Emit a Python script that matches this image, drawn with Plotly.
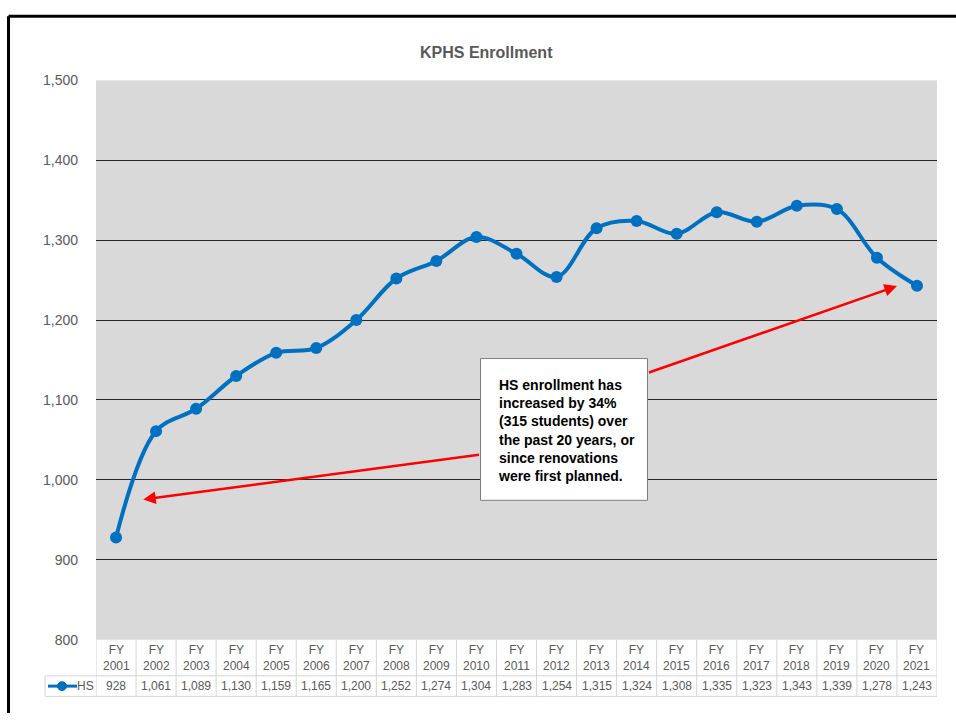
import plotly.graph_objects as go

# ---- data ----
fiscal_years = ["2001", "2002", "2003", "2004", "2005", "2006", "2007", "2008", "2009", "2010", "2011",
                "2012", "2013", "2014", "2015", "2016", "2017", "2018", "2019", "2020", "2021"]
hs_enrollment = [928, 1061, 1089, 1130, 1159, 1165, 1200, 1252, 1274, 1304, 1283,
                 1254, 1315, 1324, 1308, 1335, 1323, 1343, 1339, 1278, 1243]
series_name = "HS"
y_ticks = [800, 900, 1000, 1100, 1200, 1300, 1400, 1500]
chart_title = "KPHS Enrollment"
note_text = ("HS enrollment has<br>increased by 34%<br>(315 students) over<br>"
             "the past 20 years, or<br>since renovations<br>were first planned.")

W, H = 956, 721
BLUE = "#0070C0"
GRAY_TXT = "#595959"
FONT = "Liberation Sans, Arial, sans-serif"


def px(x):
    return x / W


def py(y):
    return 1 - y / H


# plot area in pixels
PL, PR, PT, PB = 96, 937, 74, 646
ROW1_BOTTOM, ROW2_BOTTOM, LEG_LEFT = 683, 704, 45

idx = list(range(len(fiscal_years)))

fig = go.Figure()
fig.add_trace(go.Scatter(
    x=idx, y=hs_enrollment, mode="lines+markers", name=series_name,
    line=dict(color=BLUE, width=4, shape="spline", smoothing=1.0),
    marker=dict(color=BLUE, size=12),
    showlegend=False, cliponaxis=False,
))

shapes = []
annotations = []

# outer frame (kept inside the paper)
shapes.append(dict(type="line", xref="paper", yref="paper", x0=px(8.5), x1=1,
                   y0=py(8.5), y1=py(8.5), line=dict(color="black", width=3)))
shapes.append(dict(type="line", xref="paper", yref="paper", x0=px(8.5), x1=px(8.5),
                   y0=py(8.5), y1=0, line=dict(color="black", width=3)))

# data table grid
TBL = "#d4d4d4"
n = len(fiscal_years)
for k in range(n + 1):
    xb = k - 0.5
    shapes.append(dict(type="line", xref="x", yref="paper", x0=xb, x1=xb,
                       y0=py(PB), y1=py(ROW2_BOTTOM), line=dict(color=TBL, width=1), layer="below"))
shapes.append(dict(type="line", xref="paper", yref="paper", x0=px(LEG_LEFT), x1=px(PR),
                   y0=py(ROW1_BOTTOM), y1=py(ROW1_BOTTOM), line=dict(color=TBL, width=1)))
shapes.append(dict(type="line", xref="paper", yref="paper", x0=px(LEG_LEFT), x1=px(PR),
                   y0=py(ROW2_BOTTOM), y1=py(ROW2_BOTTOM), line=dict(color=TBL, width=1)))
shapes.append(dict(type="line", xref="paper", yref="paper", x0=px(LEG_LEFT), x1=px(LEG_LEFT),
                   y0=py(ROW1_BOTTOM), y1=py(ROW2_BOTTOM), line=dict(color=TBL, width=1)))

for i, (fy, v) in enumerate(zip(fiscal_years, hs_enrollment)):
    annotations.append(dict(x=i, y=py(664.5), xref="x", yref="paper", text="FY<br>" + fy,
                            showarrow=False, font=dict(family=FONT, size=12, color=GRAY_TXT),
                            xanchor="center", yanchor="middle"))
    annotations.append(dict(x=i, y=py(693.5), xref="x", yref="paper", text=f"{v:,}",
                            showarrow=False, font=dict(family=FONT, size=12, color=GRAY_TXT),
                            xanchor="center", yanchor="middle"))

# legend key in the table
shapes.append(dict(type="line", xref="paper", yref="paper", x0=px(48), x1=px(77),
                   y0=py(693.5), y1=py(693.5), line=dict(color=BLUE, width=3)))
shapes.append(dict(type="circle", xref="paper", yref="paper", x0=px(57.5), x1=px(66.5),
                   y0=py(689), y1=py(698), fillcolor=BLUE, line=dict(color=BLUE, width=1)))
annotations.append(dict(x=px(85), y=py(693.5), xref="paper", yref="paper", text=series_name,
                        showarrow=False, font=dict(family=FONT, size=12, color=GRAY_TXT),
                        xanchor="center", yanchor="middle"))

# red arrows from the note box
annotations.append(dict(x=0.68, y=975.5, ax=9.1, ay=1031.7, xref="x", yref="y", axref="x", ayref="y",
                        text="", showarrow=True, arrowhead=2, arrowsize=1, arrowwidth=2.5,
                        arrowcolor="#FF0000"))
annotations.append(dict(x=19.5, y=1242.5, ax=13.27, ay=1133.7, xref="x", yref="y", axref="x", ayref="y",
                        text="", showarrow=True, arrowhead=2, arrowsize=1, arrowwidth=2.5,
                        arrowcolor="#FF0000"))

# note box
shapes.append(dict(type="rect", xref="paper", yref="paper", x0=px(480.5), x1=px(647.5),
                   y0=py(358.5), y1=py(503.5), fillcolor="white", line=dict(color="#7f7f7f", width=1)))
annotations.append(dict(x=px(496), y=py(432), xref="paper", yref="paper", text=note_text,
                        showarrow=False, align="left", xanchor="left", yanchor="middle",
                        font=dict(family=FONT, size=14, color="#000000", weight="bold")))

# title
annotations.append(dict(x=px(486), y=py(45), xref="paper", yref="paper", text="<b>" + chart_title + "</b>",
                        showarrow=False, xanchor="center", yanchor="middle",
                        font=dict(family=FONT, size=16, color=GRAY_TXT)))

fig.update_layout(
    width=W, height=H,
    margin=dict(l=0, r=0, t=0, b=0),
    paper_bgcolor="white",
    plot_bgcolor="#D9D9D9",
    shapes=shapes,
    annotations=annotations,
    xaxis=dict(domain=[px(PL), px(PR)], range=[-0.5, n - 0.5], showticklabels=False,
               showgrid=False, zeroline=False, showline=False, fixedrange=True),
    yaxis=dict(domain=[py(PB), py(PT)], range=[800, 1500], tickvals=y_ticks,
               ticktext=[f"{t:,}" for t in y_ticks], showgrid=True, gridcolor="#262626", gridwidth=1,
               zeroline=False, showline=False, ticks="", ticklabelstandoff=17,
               tickfont=dict(family=FONT, size=14, color=GRAY_TXT), fixedrange=True),
    showlegend=False,
)

fig.write_html("out.html", config=dict(displayModeBar=False),
               post_script="document.body.style.margin='0';document.body.style.overflow='hidden';")
